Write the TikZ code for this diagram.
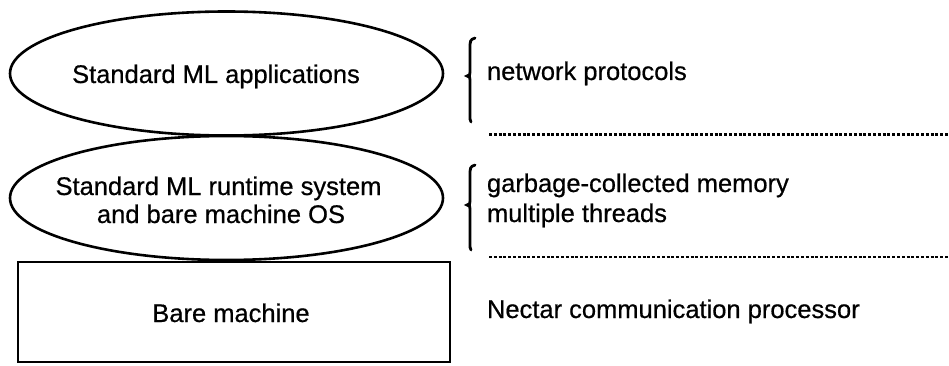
\documentclass[tikz,border=0pt]{standalone}
\usepackage{fontspec}
\setmainfont{Liberation Sans}
\newfontfamily\lblfont{Liberation Sans}[FakeBold=0.6]
\usetikzlibrary{shapes.geometric}
\begin{document}
\begin{tikzpicture}[x=1pt,y=-1pt,
  every node/.style={font=\lblfont\fontsize{25.5}{29}\selectfont, inner sep=0pt, outer sep=0pt},
  layer/.style={draw, ellipse, line width=2.6pt, minimum width=433pt, minimum height=124pt},
  box/.style={draw, rectangle, line width=2.6pt, minimum width=432pt, minimum height=100pt},
  lbl/.style={anchor=base},
  side/.style={anchor=base west},
  sep/.style={line width=2.4pt, dash pattern=on 3pt off 1.8pt},
  brace/.style={line width=2.8pt, line cap=round}]
\useasboundingbox (0,0) rectangle (949,366);
% left stack
\node[layer] (app) at (226.5,73.5) {};
\node[layer] (rts) at (226.5,198) {};
\node[box] (bare) at (234,312) {};
\node[lbl] (appt) at (216,83) {Standard ML applications};
\node[lbl] (rtst1) at (218.5,195) {Standard ML runtime system};
\node[lbl] (rtst2) at (221,223) {and bare machine OS};
\node[lbl] (baret) at (231,322) {Bare machine};
% right descriptions
\node[side] (net) at (487,80) {network protocols};
\node[side] (gc) at (487,192) {garbage-collected memory};
\node[side] (thr) at (487,222) {multiple threads};
\node[side] (nec) at (487,318) {Nectar communication processor};
% braces
\coordinate (b1t) at (475,38);
\coordinate (b1b) at (471,122);
\draw[brace] (b1t) .. controls (470,40) .. (470,50) -- (470,72)
  .. controls (470,75) .. (467,76) .. controls (470,77) .. (470,80) -- (470,114)
  .. controls (470,120) .. (b1b);
\coordinate (b2t) at (475,165);
\coordinate (b2b) at (471,250);
\draw[brace] (b2t) .. controls (470,167) .. (470,177) -- (470,201)
  .. controls (470,204) .. (467,205) .. controls (470,206) .. (470,209) -- (470,242)
  .. controls (470,248) .. (b2b);
% separators
\coordinate (s1a) at (489,134.5);
\coordinate (s1b) at (949,134.5);
\coordinate (s2a) at (489,257);
\coordinate (s2b) at (949,257);
\draw[sep] (s1a) -- (s1b);
\draw[sep] (s2a) -- (s2b);
\end{tikzpicture}
\end{document}
